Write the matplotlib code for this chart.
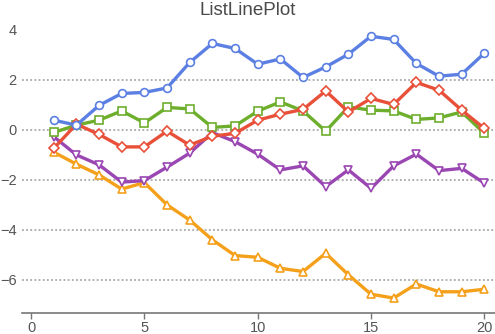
import numpy as np
import matplotlib.pyplot as plt

# ================= DATA =================
x = np.arange(1, 21)

blue = [0.38, 0.18, 0.97, 1.45, 1.49, 1.67, 2.69, 3.45, 3.25, 2.62,
        2.83, 2.09, 2.51, 3.02, 3.74, 3.61, 2.65, 2.14, 2.22, 3.06]
red = [-0.75, 0.22, -0.19, -0.69, -0.69, -0.06, -0.62, -0.26, -0.15, 0.38,
       0.62, 0.81, 1.55, 0.71, 1.25, 1.01, 1.89, 1.58, 0.78, 0.05]
green = [-0.11, 0.18, 0.38, 0.75, 0.27, 0.89, 0.83, 0.09, 0.15, 0.74,
         1.11, 0.75, -0.06, 0.91, 0.78, 0.75, 0.41, 0.47, 0.71, -0.15]
purple = [-0.28, -1.01, -1.41, -2.10, -2.04, -1.50, -0.94, -0.12, -0.48, -0.98,
          -1.61, -1.45, -2.28, -1.61, -2.35, -1.45, -0.98, -1.64, -1.55, -2.14]
orange = [-0.90, -1.38, -1.81, -2.38, -2.12, -3.01, -3.62, -4.41, -5.04, -5.11,
          -5.55, -5.68, -4.95, -5.81, -6.59, -6.74, -6.18, -6.49, -6.49, -6.39]

xticks = [0, 5, 10, 15, 20]
yticks = [4, 2, 0, -2, -4, -6]
gridlines = [2, 0, -2, -4, -6]

# ================= STYLE =================
plt.rcParams['font.family'] = ['Liberation Sans', 'DejaVu Sans']
GRAY = "#555555"

series = [
    (orange, "#F5A01A", "^"),
    (purple, "#9A46B3", "v"),
    (green, "#6DAE2C", "s"),
    (red, "#E8503A", "D"),
    (blue, "#5B7FE3", "o"),
]

# ================= PLOT =================
fig = plt.figure(figsize=(4.95, 3.34), dpi=100)
ax = fig.add_axes([22 / 495, 21 / 334, 473 / 495, 295 / 334])

for g in gridlines:
    ax.axhline(g, color="#a8a8a8", lw=1.3, ls=(0, (1.0, 1.3)), zorder=1)

for vals, col, mk in series:
    ms = 4.6 if mk == "D" else 5.6
    ax.plot(x, vals, color=col, lw=2.4, marker=mk, ms=ms,
            mfc="white", mec=col, mew=1.2, zorder=3, clip_on=False)

ax.set_xlim(-0.4, 20.47)
ax.set_ylim(-7.34, 4.47)
ax.set_xticks(xticks)
ax.set_yticks(yticks)
ax.set_yticklabels([f"{v}".replace("-", "\u2212") for v in yticks])

for s in ["top", "right", "left"]:
    ax.spines[s].set_visible(False)
ax.spines["bottom"].set_color("#777777")
ax.spines["bottom"].set_linewidth(1.2)
ax.tick_params(axis="x", direction="out", length=4, width=1, color="#777777",
               labelcolor=GRAY, labelsize=10.5, pad=2)
ax.tick_params(axis="y", length=0, labelcolor=GRAY, labelsize=10.5, pad=4)

fig.text(0.5, 0.97, "ListLinePlot", ha="center", va="center",
         fontsize=13.5, color="#4a4a4a")

plt.savefig("out.png", dpi=100)
plt.close()
